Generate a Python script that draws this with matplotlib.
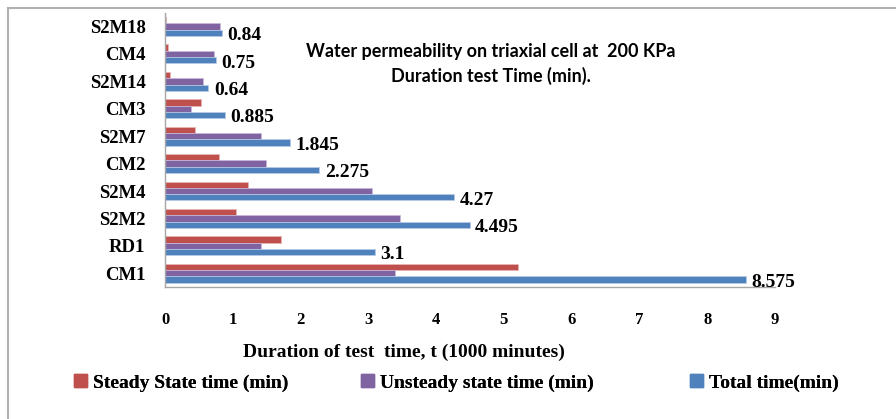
"""
Water permeability on triaxial cell - duration of test (horizontal bars)
"""
import matplotlib
matplotlib.use('Agg')
import matplotlib.pyplot as plt
from matplotlib.lines import Line2D
from matplotlib.patches import Patch
import numpy as np

# samples, bottom to top
samples = ['CM1', 'RD1', 'S2M2', 'S2M4', 'CM2', 'S2M7', 'CM3', 'S2M14', 'CM4', 'S2M18']
steady = [5.21, 1.71, 1.05, 1.23, 0.80, 0.44, 0.53, 0.07, 0.04, 0.02]
unsteady = [3.39, 1.41, 3.47, 3.05, 1.49, 1.42, 0.38, 0.56, 0.72, 0.81]
total = [8.575, 3.1, 4.495, 4.27, 2.275, 1.845, 0.885, 0.64, 0.75, 0.84]
total_labels = ['8.575', '3.1', '4.495', '4.27', '2.275', '1.845', '0.885', '0.64', '0.75', '0.84']
x_ticks = [0, 1, 2, 3, 4, 5, 6, 7, 8, 9]
series_names = ['Steady State time (min)', 'Unsteady state time (min)', 'Total time(min)']

red = '#C0504D'
purple = '#8064A2'
blue = '#4F81BD'
serif = 'Liberation Serif'

fig = plt.figure(figsize=(8.96, 4.19), dpi=100)
ax = fig.add_axes([165 / 896, 1 - 287 / 419, (775 - 165) / 896, (287 - 12.8) / 419])

y = np.arange(len(samples))
h = 0.23
ax.barh(y + h, steady, h, color=red, edgecolor='#e8b8b6', linewidth=0.5)
ax.barh(y, unsteady, h, color=purple, edgecolor='#c8b8dc', linewidth=0.5)
ax.barh(y - h, total, h, color=blue, edgecolor='#b8cce6', linewidth=0.5)

for yi, v, lab in zip(y, total, total_labels):
    ax.annotate(lab, (v, yi - h), xytext=(4, -2), textcoords='offset points',
                ha='left', va='center', fontsize=14, fontweight='bold', family=serif)

ax.set_xlim(0, 9)
ax.set_ylim(-0.5, len(samples) - 0.5)
ax.set_xticks(x_ticks)
ax.set_xticklabels([str(t) for t in x_ticks], fontsize=12, fontweight='bold', family=serif)
ax.set_yticks(y)
ax.set_yticklabels(samples, fontsize=13.5, fontweight='bold', family=serif)
ax.tick_params(axis='x', length=0, pad=18)
ax.tick_params(axis='y', length=0, pad=14)
for s in ['top', 'right']:
    ax.spines[s].set_visible(False)
for s in ['left', 'bottom']:
    ax.spines[s].set_color('#A6A6A6')
    ax.spines[s].set_linewidth(1.0)

ax.set_xlabel('Duration of test  time, t (1000 minutes)', fontsize=14, fontweight='bold',
              family=serif)
ax.xaxis.set_label_coords((404 - 165) / (775 - 165), -(352 - 287) / (287 - 12.8))
ax.xaxis.label.set_va('center')

ax.text(491 / 896, 1 - 52 / 419, 'Water permeability on triaxial cell at  200 KPa',
        transform=fig.transFigure, ha='center', va='center', fontsize=13,
        fontweight='bold', family='Lato')
ax.text(491 / 896, 1 - 76 / 419, 'Duration test Time (min).',
        transform=fig.transFigure, ha='center', va='center', fontsize=13,
        fontweight='bold', family='Lato')

# legend: one entry each, placed where the original puts them
legend_x = [74, 361, 690]
for name, color, lx in zip(series_names, [red, purple, blue], legend_x):
    leg = fig.legend(handles=[Patch(color=color, label=name)], loc='center left',
                     bbox_to_anchor=(lx / 896, 1 - 383 / 419), frameon=False,
                     borderpad=0, borderaxespad=0, handlelength=0.65, handleheight=0.65,
                     handletextpad=0.35, prop={'family': serif, 'weight': 'bold', 'size': 14})
    fig.add_artist(leg)

# outer chart frame (only left and top edges are visible)
fig.add_artist(Line2D([8 / 896, 8 / 896], [0, 1 - 8 / 419], transform=fig.transFigure,
                      color='#B0B0B0', linewidth=1.5))
fig.add_artist(Line2D([8 / 896, 1], [1 - 8 / 419, 1 - 8 / 419], transform=fig.transFigure,
                      color='#B0B0B0', linewidth=1.5))

fig.savefig('out.png', dpi=100)
